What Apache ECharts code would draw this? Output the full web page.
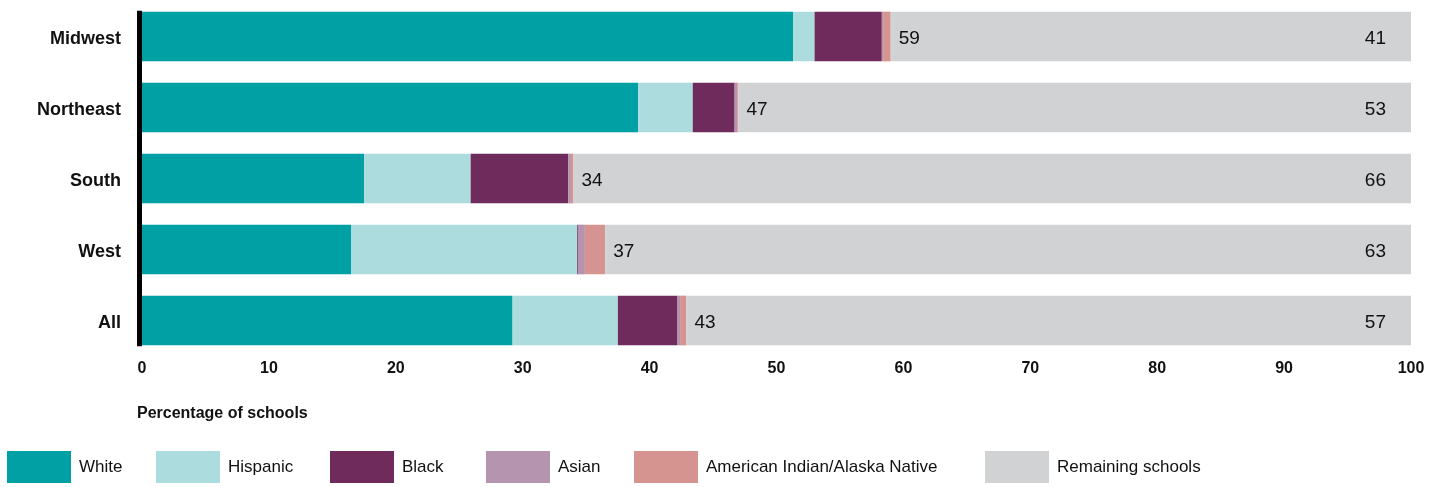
<!DOCTYPE html>
<html><head><meta charset="utf-8">
<script src="https://cdn.jsdelivr.net/npm/echarts@6/dist/echarts.min.js"></script>
<style>html,body{margin:0;padding:0;background:#fff}#c{width:1447px;height:487px}</style>
</head><body><div id="c"></div>
<script>
const categories = ['Midwest', 'Northeast', 'South', 'West', 'All'];
const white    = [51.3, 39.1, 17.5, 16.5, 29.2];
const hispanic = [1.7, 4.3, 8.4, 17.8, 8.3];
const black    = [5.3, 3.3, 7.7, 0.1, 4.7];
const asian    = [0.1, 0.2, 0.2, 0.5, 0.2];
const aian     = [0.6, 0.1, 0.2, 1.6, 0.5];
const totalLabels = [59, 47, 34, 37, 43];
const remainingLabels = [41, 53, 66, 63, 57];
const xTicks = [0, 10, 20, 30, 40, 50, 60, 70, 80, 90, 100];

const remaining = categories.map((_, i) => +(100 - white[i] - hispanic[i] - black[i] - asian[i] - aian[i]).toFixed(2));

const FONT = 'Liberation Sans, Arial, sans-serif';
const colors = {
  'White': '#00A0A4', 'Hispanic': '#ACDCDE', 'Black': '#6E2B5B',
  'Asian': '#B594B0', 'American Indian/Alaska Native': '#D69491', 'Remaining schools': '#D1D2D4'
};
const seriesData = [
  ['White', white], ['Hispanic', hispanic], ['Black', black],
  ['Asian', asian], ['American Indian/Alaska Native', aian], ['Remaining schools', remaining]
];
const BAR_RATIO = 0.7;
const series = seriesData.map(([name, d]) => {
  const s = {
    name, type: 'bar', stack: 'a', data: d, barWidth: (BAR_RATIO * 100) + '%',
    itemStyle: { color: colors[name] }, emphasis: { disabled: true }
  };
  if (name === 'American Indian/Alaska Native') {
    s.label = { show: true, position: 'right', distance: 8, fontFamily: FONT, fontSize: 19, color: '#111',
      verticalAlign: 'top', lineHeight: 4,
      formatter: p => String(totalLabels[p.dataIndex]) };
  }
  if (name === 'Remaining schools') {
    s.label = { show: true, position: 'insideRight', distance: 25, fontFamily: FONT, fontSize: 19, color: '#111',
      verticalAlign: 'top', lineHeight: 4,
      formatter: p => String(remainingLabels[p.dataIndex]) };
  }
  return s;
});

const legendPos = [2, 151, 325, 481, 629, 980];
const legends = seriesData.map(([name], i) => ({
  data: [name], left: legendPos[i], top: 446, itemWidth: 64, itemHeight: 32, itemGap: 0,
  icon: 'rect', textStyle: { fontFamily: FONT, fontSize: 17, color: '#111', padding: [0, 0, 0, 3], verticalAlign: 'top', lineHeight: 7 },
  selectedMode: false
}));

const GRID_LEFT = 142;
const chart = echarts.init(document.getElementById('c'));
chart.setOption({
  animation: false,
  legend: legends,
  grid: { left: GRID_LEFT, right: 36, top: 1, height: 355, containLabel: false },
  xAxis: {
    type: 'value', min: 0, max: 100, interval: 10,
    axisLine: { show: false }, axisTick: { show: false }, splitLine: { show: false },
    axisLabel: { fontFamily: FONT, fontSize: 16, fontWeight: 'bold', color: '#111', margin: 5,
      formatter: v => xTicks.includes(v) ? String(v) : '' },
    name: 'Percentage of schools', nameLocation: 'start',
    nameTextStyle: { fontFamily: FONT, fontSize: 16, fontWeight: 'bold', color: '#111', align: 'left', verticalAlign: 'top', padding: [50, 0, 0, -5] },
    nameGap: 0
  },
  yAxis: {
    type: 'category', data: categories, inverse: true,
    axisLine: { show: false },
    axisTick: { show: false },
    axisLabel: { fontFamily: FONT, fontSize: 18, fontWeight: 'bold', color: '#111', margin: 21, verticalAlign: 'top', lineHeight: 5 }
  },
  series
});

// Black baseline spanning the bars, positioned from the category scale
const yFirst = chart.convertToPixel({ yAxisIndex: 0 }, categories[0]);
const yLast = chart.convertToPixel({ yAxisIndex: 0 }, categories[categories.length - 1]);
const band = (yLast - yFirst) / (categories.length - 1);
const half = band * BAR_RATIO / 2;
chart.setOption({
  graphic: [{
    type: 'rect', silent: true, z: 10,
    shape: { x: GRID_LEFT - 5, y: yFirst - half - 1, width: 5, height: (yLast - yFirst) + 2 * half + 2 },
    style: { fill: '#000' }
  }]
});
</script></body></html>
